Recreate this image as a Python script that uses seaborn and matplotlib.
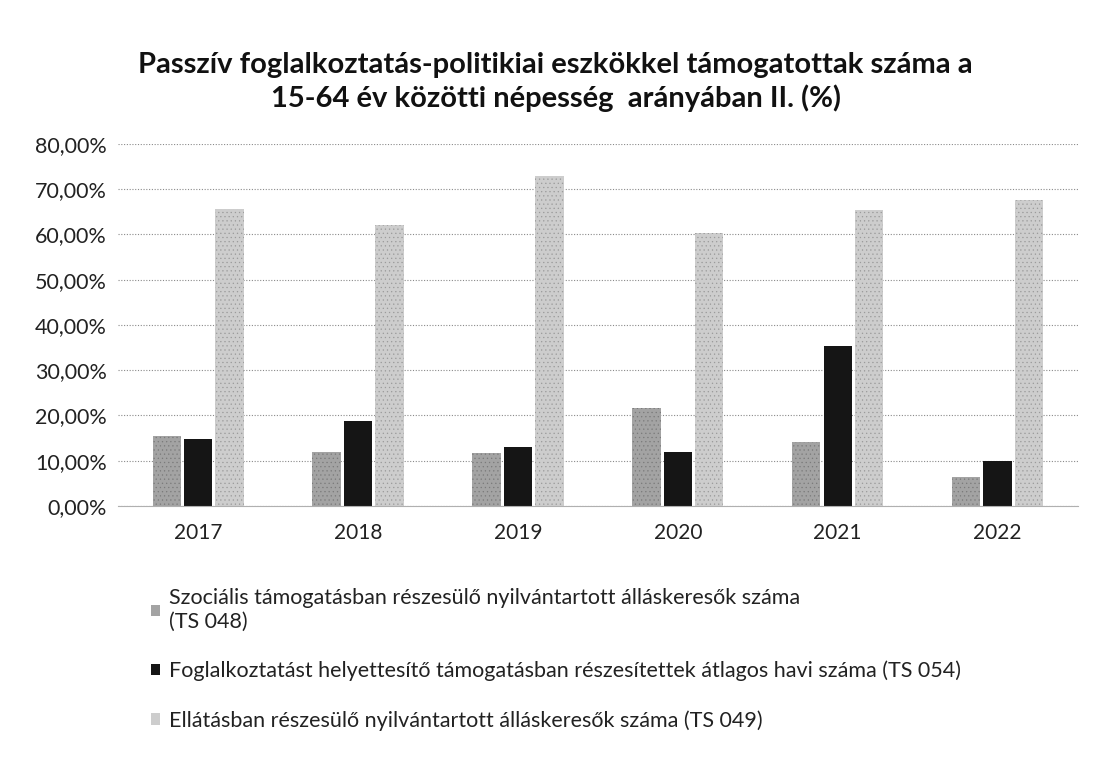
import matplotlib
matplotlib.use("Agg")
import matplotlib.pyplot as plt
import seaborn as sns
import pandas as pd
from matplotlib.ticker import FuncFormatter, MultipleLocator
from matplotlib.patches import Patch

years = ["2017", "2018", "2019", "2020", "2021", "2022"]
series_names = [
    "Szociális támogatásban részesülő nyilvántartott álláskeresők száma\n(TS 048)",
    "Foglalkoztatást helyettesítő támogatásban részesítettek átlagos havi száma (TS 054)",
    "Ellátásban részesülő nyilvántartott álláskeresők száma (TS 049)",
]
ts048 = [15.5, 11.9, 11.6, 21.7, 14.1, 6.5]
ts054 = [14.7, 18.8, 13.1, 12.0, 35.4, 9.9]
ts049 = [65.7, 62.0, 72.9, 60.4, 65.3, 67.5]
colors = ["#a3a3a3", "#151515", "#cdcdcd"]
title = "Passzív foglalkoztatás-politikiai eszkökkel támogatottak száma a\n15-64 év közötti népesség  arányában II. (%)"

rows = []
for name, vals in zip(series_names, [ts048, ts054, ts049]):
    for y, v in zip(years, vals):
        rows.append({"year": y, "value": v, "series": name})
df = pd.DataFrame(rows)

sns.set_theme(style="white")
plt.rcParams["font.family"] = ["Lato", "DejaVu Sans"]
plt.rcParams["hatch.linewidth"] = 0.4

fig = plt.figure(figsize=(10.94, 7.69), dpi=100)
ax = fig.add_axes([0.108, 0.342, 0.877, 0.471])

sns.barplot(data=df, x="year", y="value", hue="series", order=years,
            hue_order=series_names, palette=colors, width=0.59, gap=0.1,
            saturation=1, legend=False, ax=ax, edgecolor="none")
for i, bars in enumerate(ax.containers):
    for b in bars:
        if i != 1:
            b.set_hatch("....")
            b.set_edgecolor("#7a7a7a" if i == 0 else "#9a9a9a")
            b.set_linewidth(0)

ax.set_ylim(0, 80)
ax.yaxis.set_major_locator(MultipleLocator(10))
ax.yaxis.set_major_formatter(FuncFormatter(lambda v, p: f"{v:.2f}%".replace(".", ",")))
ax.set_axisbelow(True)
ax.grid(axis="y", color="#8a8a8a", linestyle=(0, (1, 1.5)), linewidth=0.8)
ax.grid(axis="x", visible=False)
for s in ["left", "right", "top"]:
    ax.spines[s].set_visible(False)
ax.spines["bottom"].set_color("#b0b0b0")
ax.spines["bottom"].set_linewidth(0.8)
ax.set_xlabel("")
ax.set_ylabel("")
ax.tick_params(axis="y", labelsize=15.5, colors="#222222", length=0, pad=8)
ax.tick_params(axis="x", labelsize=15, colors="#222222", length=0, pad=12)

fig.text(0.508, 0.893, title, ha="center", va="center", fontsize=21,
         fontweight="bold", color="#111111", linespacing=1.3)

handles = [Patch(facecolor=c, edgecolor="none") for c in colors]
fig.legend(handles, series_names, loc="upper left", bbox_to_anchor=(0.12, 0.26),
           frameon=False, fontsize=15.5, handlelength=0.45, handleheight=0.45,
           handletextpad=0.4, labelspacing=1.35, labelcolor="#222222")

fig.savefig("out.png", dpi=100, facecolor="white")
